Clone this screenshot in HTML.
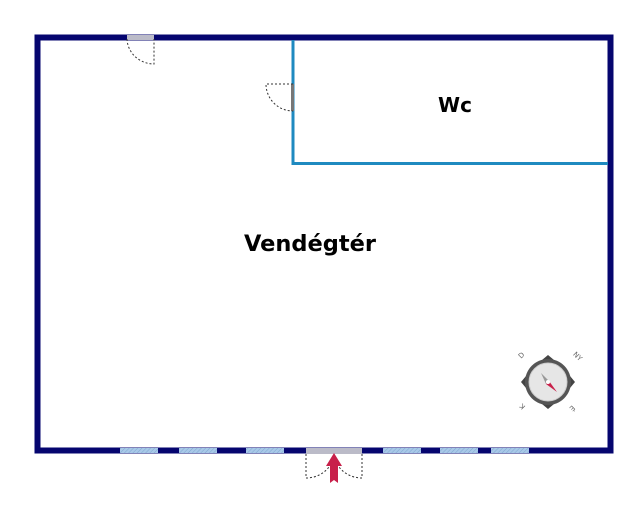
<!DOCTYPE html>
<html><head><style>body{margin:0;background:#fff}svg{display:block}</style></head><body>
<svg width="640" height="505" xmlns="http://www.w3.org/2000/svg">
<defs><pattern id="h" width="3" height="3" patternUnits="userSpaceOnUse" patternTransform="rotate(45)"><rect width="3" height="3" fill="#a8c8e8"/><line x1="0" y1="0" x2="0" y2="3" stroke="#7fa8d0" stroke-width="1"/></pattern></defs>
<rect x="37.5" y="37.5" width="573" height="413" fill="none" stroke="#05056f" stroke-width="6"/>
<polyline points="293,40 293,163.5 608,163.5" fill="none" stroke="#1f8ac0" stroke-width="3"/>
<g fill="url(#h)">
<rect x="120" y="448" width="38" height="5"/><rect x="179" y="448" width="38" height="5"/><rect x="246" y="448" width="38" height="5"/>
<rect x="383" y="448" width="38" height="5"/><rect x="440" y="448" width="38" height="5"/><rect x="491" y="448" width="38" height="5"/>
</g>
<rect x="127" y="35" width="27" height="5" fill="#bbbbc8"/>
<path d="M127,39 A27,26 0 0 0 154,64 L154,39" fill="none" stroke="#333" stroke-width="1" stroke-dasharray="2,2"/>
<rect x="291" y="84" width="3" height="27" fill="#777"/>
<path d="M293,84 L266,84 A27,27 0 0 0 293,111" fill="none" stroke="#333" stroke-width="1" stroke-dasharray="2,2"/>
<rect x="306" y="448" width="56" height="6" fill="#bbbbc8"/>
<path d="M306,454 L306,478 A28,26 0 0 0 334,454 M362,454 L362,478 A28,26 0 0 1 334,454" fill="none" stroke="#333" stroke-width="1" stroke-dasharray="2,2"/>
<path d="M334,453 L342,466 L338,466 L338,483 L334,480 L330,483 L330,466 L326,466 Z" fill="#c8204a"/>
<text x="310" y="251" font-family="DejaVu Sans, sans-serif" font-size="22.5" font-weight="bold" text-anchor="middle" fill="#000">Vendégtér</text>
<text x="455" y="112" font-family="DejaVu Sans, sans-serif" font-size="20" font-weight="bold" text-anchor="middle" fill="#000">Wc</text>
<g transform="translate(548,382)">
<path d="M-6,-22 L0,-27 L6,-22 Z M22,-6 L27,0 L22,6 Z M-6,22 L0,27 L6,22 Z M-22,-6 L-27,0 L-22,6 Z" fill="#444"/>
<circle r="23" fill="#555"/>
<circle r="19" fill="#e6e6e6" stroke="#ccc"/>
<path d="M-7,-9 L1,-1 L-2,2 Z" fill="#999"/>
<path d="M9,10 L1,-1 L-2,2 Z" fill="#c8204a"/>
<circle cx="0" cy="0" r="2" fill="#fff"/>
<g font-family="DejaVu Sans, sans-serif" font-size="7" fill="#666" text-anchor="middle">
<text x="-25" y="-25" transform="rotate(-45 -25 -25)">D</text>
<text x="28" y="-24" transform="rotate(45 28 -24)">NY</text>
<text x="24" y="28" transform="rotate(135 24 26)">É</text>
<text x="-26" y="28" transform="rotate(-135 -26 25)">K</text>
</g></g>
</svg>
</body></html>
